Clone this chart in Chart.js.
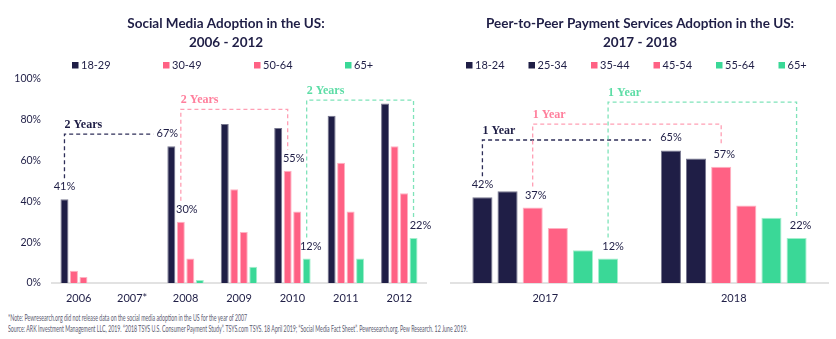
<!DOCTYPE html>
<html>
<head>
<meta charset="utf-8">
<script src="https://cdn.jsdelivr.net/npm/chart.js@4.4.0/dist/chart.umd.min.js"></script>
<style>
  body { margin: 0; background: #ffffff; }
  .wrap { position: relative; width: 836px; height: 339px; overflow: hidden; }
  .box { position: absolute; top: 0; height: 310px; }
  .note {
    position: absolute; left: 8px; top: 312px;
    font-family: Lato, sans-serif;
    font-size: 9px; line-height: 11px; color: #5b5b70; white-space: nowrap;
    transform: scaleX(0.585); transform-origin: 0 0;
  }
</style>
</head>
<body>
<div class="wrap">
  <div class="box" style="left:0; width:452px;"><canvas id="socialChart" width="452" height="310"></canvas></div>
  <div class="box" style="left:440px; width:396px;"><canvas id="p2pChart" width="396" height="310"></canvas></div>
  <div class="note">
    *Note: Pewresearch.org did not release data on the social media adoption in the US for the year of 2007<br>
    Source: ARK Investment Management LLC, 2019. “2018 TSYS U.S. Consumer Payment Study”. TSYS.com TSYS. 18 April 2019; “Social Media Fact Sheet”. Pewresearch.org. Pew Research. 12 June 2019.
  </div>
</div>
<script>
// Data diagram kiri: adopsi media sosial
const socialYears = ["2006", "2007*", "2008", "2009", "2010", "2011", "2012"];
const socialAges = ["18-29", "30-49", "50-64", "65+"];
const social1829 = [41, null, 67, 78, 76, 82, 88];
const social3049 = [6, null, 30, 46, 55, 59, 67];
const social5064 = [3, null, 12, 25, 35, 35, 44];
const social65 = [0, null, 1.5, 8, 12, 12, 22];

// Data diagram kanan: pembayaran P2P
const p2pYears = ["2017", "2018"];
const p2pAges = ["18-24", "25-34", "35-44", "45-54", "55-64", "65+"];
const p2p1824 = [42, 65];
const p2p2534 = [45, 61];
const p2p3544 = [37, 57];
const p2p4554 = [27, 38];
const p2p5564 = [16, 32];
const p2p65 = [12, 22];

const yTicks = [0, 20, 40, 60, 80, 100];

const navy = "#1f1e46";
const pink = "#ff6184";
const green = "#3ad897";
const navyEdge = "#77778f";
const pinkEdge = "#ffb2c2";
const greenEdge = "#a3efcc";

// Judul dua baris + legenda kotak kecil
const header = {
    id: "header",
    afterDraw(chart, args, opts) {
        const ctx = chart.ctx;
        ctx.save();
        ctx.fillStyle = navy;
        ctx.textBaseline = "middle";
        ctx.textAlign = "center";
        ctx.font = "bold 13.5px Lato";
        opts.title.forEach((line, i) => ctx.fillText(line, opts.cx, 23.5 + i * 19.5));

        ctx.font = "11px Lato";
        ctx.textAlign = "left";
        chart.data.datasets.forEach((ds, i) => {
            const x = opts.x + i * opts.step;
            ctx.fillStyle = ds.backgroundColor;
            ctx.fillRect(x, opts.y - 3, 6.5, 6.5);
            ctx.fillStyle = navy;
            ctx.fillText(ds.label, x + 9, opts.y + 0.5);
        });
        ctx.restore();
    },
};

// Label persen dan kurung putus-putus
const bracketPlugin = {
    id: "brackets",
    afterDatasetsDraw(chart, args, opts) {
        const ctx = chart.ctx;
        const yScale = chart.scales.y;
        const bar = (ds, i) => chart.getDatasetMeta(ds).data[i];
        ctx.save();

        ctx.font = "11px Lato";
        ctx.textAlign = "center";
        ctx.textBaseline = "middle";
        ctx.fillStyle = navy;
        opts.values.forEach(([ds, i, dx]) => {
            const b = bar(ds, i);
            ctx.fillText(chart.data.datasets[ds].data[i] + "%", b.x + dx, b.y - 12.5);
        });

        opts.marks.forEach((m) => {
            const a = bar(m.ds, m.from);
            const b = bar(m.ds, m.to);
            const top = yScale.getPixelForValue(m.top);
            const x1 = a.x;
            const x2 = m.open ? b.x - m.gap : b.x;
            ctx.strokeStyle = m.line;
            ctx.lineWidth = 1.3;
            ctx.setLineDash([4, 3]);
            ctx.beginPath();
            ctx.moveTo(x1, a.y - 21);
            ctx.lineTo(x1, top);
            ctx.lineTo(x2, top);
            if (!m.open) ctx.lineTo(x2, b.y - 21);
            ctx.stroke();
            ctx.setLineDash([]);
            ctx.font = "bold 12px 'Liberation Serif'";
            ctx.textAlign = "left";
            ctx.fillStyle = m.text;
            ctx.fillText(m.label, x1, top - 9.5);
        });
        ctx.restore();
    },
};

function makeSet(label, data, color, edge) {
    return {
        label: label,
        data: data,
        backgroundColor: color,
        borderColor: edge,
        borderWidth: 1,
    };
}

function makeScales(withY) {
    return {
        x: {
            grid: { display: false, drawTicks: false },
            border: { color: "#e2e2e2", width: 2 },
            ticks: { color: navy, font: { family: "Lato", size: 11 }, padding: 9 },
            afterFit: (scale) => { scale.height = 27; },
        },
        y: {
            display: withY,
            min: 0,
            max: 100,
            grid: { display: false, drawTicks: false },
            border: { display: false },
            afterBuildTicks: (scale) => { scale.ticks = yTicks.map((v) => ({ value: v })); },
            ticks: {
                color: navy,
                font: { family: "Lato", size: 10.5 },
                padding: 11,
                callback: (v) => v + "%",
            },
            afterFit: (scale) => { scale.width = withY ? 52 : 0; },
        },
    };
}

// Diagram batang kiri
const socialChart = new Chart(document.getElementById("socialChart"), {
    type: "bar",
    data: {
        labels: socialYears,
        datasets: [
            makeSet(socialAges[0], social1829, navy, navyEdge),
            makeSet(socialAges[1], social3049, pink, pinkEdge),
            makeSet(socialAges[2], social5064, pink, pinkEdge),
            makeSet(socialAges[3], social65, green, greenEdge),
        ],
    },
    options: {
        responsive: false,
        animation: false,
        devicePixelRatio: 1,
        layout: { padding: { left: 0, right: 26, top: 79, bottom: 0 } },
        datasets: { bar: { categoryPercentage: 0.711, barPercentage: 0.84 } },
        scales: makeScales(true),
        plugins: {
            legend: { display: false },
            tooltip: { enabled: false },
            header: { title: ["Social Media Adoption in the US:", "2006 - 2012"], cx: 226, x: 72, step: 91, y: 65 },
            brackets: {
                values: [[0, 0, 0], [0, 2, -4], [1, 2, 6], [1, 4, 6], [3, 4, 4], [3, 6, 7]],
                marks: [
                    { ds: 0, from: 0, to: 2, top: 73, open: true, gap: 18, label: "2 Years", line: "#2e2e58", text: navy },
                    { ds: 1, from: 2, to: 4, top: 85.1, open: false, label: "2 Years", line: "#ff9fb4", text: "#ff7f9c" },
                    { ds: 3, from: 4, to: 6, top: 89.6, open: false, label: "2 Years", line: "#7fe3b9", text: "#5ddda6" },
                ],
            },
        },
    },
    plugins: [header, bracketPlugin],
});

// Diagram batang kanan
const p2pChart = new Chart(document.getElementById("p2pChart"), {
    type: "bar",
    data: {
        labels: p2pYears,
        datasets: [
            makeSet(p2pAges[0], p2p1824, navy, navyEdge),
            makeSet(p2pAges[1], p2p2534, navy, navyEdge),
            makeSet(p2pAges[2], p2p3544, pink, pinkEdge),
            makeSet(p2pAges[3], p2p4554, pink, pinkEdge),
            makeSet(p2pAges[4], p2p5564, green, greenEdge),
            makeSet(p2pAges[5], p2p65, green, greenEdge),
        ],
    },
    options: {
        responsive: false,
        animation: false,
        devicePixelRatio: 1,
        layout: { padding: { left: 11, right: 8, top: 79, bottom: 0 } },
        datasets: { bar: { categoryPercentage: 0.8, barPercentage: 0.8 } },
        scales: makeScales(false),
        plugins: {
            legend: { display: false },
            tooltip: { enabled: false },
            header: { title: ["Peer-to-Peer Payment Services Adoption in the US:", "2017 - 2018"], cx: 200, x: 26, step: 62.5, y: 65 },
            brackets: {
                values: [[0, 0, 0], [0, 1, 0], [2, 0, 3], [2, 1, 3], [5, 0, 5], [5, 1, 4]],
                marks: [
                    { ds: 0, from: 0, to: 1, top: 70.1, open: true, gap: 20, label: "1 Year", line: "#2e2e58", text: navy },
                    { ds: 2, from: 0, to: 1, top: 77.9, open: false, label: "1 Year", line: "#ff9fb4", text: "#ff7f9c" },
                    { ds: 5, from: 0, to: 1, top: 88.7, open: false, label: "1 Year", line: "#7fe3b9", text: "#5ddda6" },
                ],
            },
        },
    },
    plugins: [header, bracketPlugin],
});
</script>
</body>
</html>
